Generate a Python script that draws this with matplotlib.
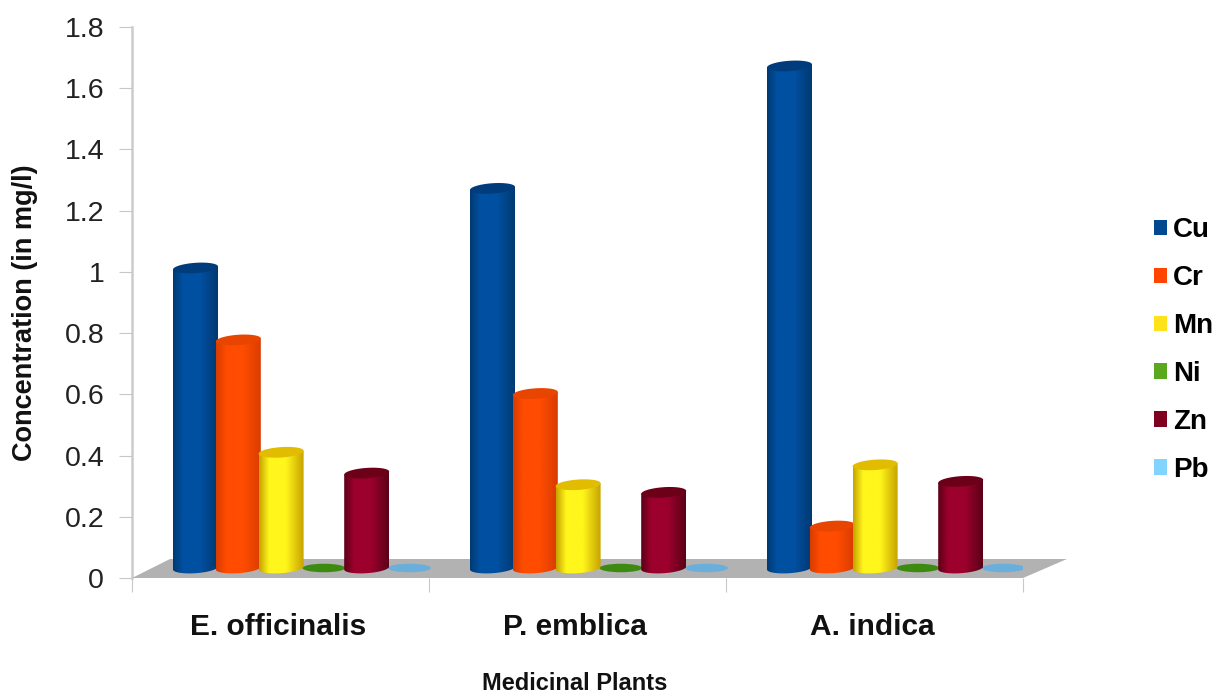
import numpy as np
import matplotlib
matplotlib.use('Agg')
import matplotlib.pyplot as plt
from matplotlib.colors import LinearSegmentedColormap
from matplotlib.patches import Ellipse, Patch, PathPatch, Polygon
from matplotlib.path import Path

plt.rcParams['font.family'] = ['Liberation Sans', 'DejaVu Sans']

plants = ['E. officinalis', 'P. emblica', 'A. indica']
metals = ['Cu', 'Cr', 'Mn', 'Ni', 'Zn', 'Pb']
cu = [0.98, 1.24, 1.64]
cr = [0.745, 0.57, 0.137]
mn = [0.378, 0.272, 0.337]
ni = [0, 0, 0]
zn = [0.31, 0.247, 0.283]
pb = [0, 0, 0]
y_ticks = [0, 0.2, 0.4, 0.6, 0.8, 1, 1.2, 1.4, 1.6, 1.8]
y_labels = ['0', '0.2', '0.4', '0.6', '0.8', '1', '1.2', '1.4', '1.6', '1.8']

series = [cu, cr, mn, ni, zn, pb]
legend_cols = ['#004990', '#ff4500', '#ffe21a', '#5aa81e', '#800020', '#80d4ff']
edge_cols = ['#013a72', '#d83c00', '#c8a400', '#3d8a10', '#5c0018', '#6aaedc']
mid_cols = ['#0050a2', '#ff4c00', '#fff61c', '#3d8a10', '#9c002c', '#6aaedc']
top_cols = ['#003c7c', '#e84500', '#e2bc00', '#3d8a10', '#6c0018', '#6aaedc']

W, H = 1213, 695
fig = plt.figure(figsize=(W / 100, H / 100), dpi=100)
ax = fig.add_axes([132 / W, 1 - 578 / H, 891 / W, 551 / H])
ax.set_xlim(-0.5, 2.5)
ax.set_ylim(0, 1.8)

# px sizes turned into data units
px_x = 3 / 891
px_y = 1.8 / 551
bar_w = 45 * px_x
pitch = 42.8 * px_x
first = (195.5 - 132) * px_x - 0.5
base = 10 * px_y
rx = bar_w / 2
ry = 5.2 * px_y
tilt = 1.5 * px_y

floor = Polygon([(-0.5, 0), (-0.5 + 38 * px_x, 19 * px_y),
                 (2.5 + 44 * px_x, 19 * px_y), (2.5, 0)],
                closed=True, fc='#b2b2b2', ec='none', clip_on=False, zorder=1)
ax.add_patch(floor)


def arc(xc, yc, t):
    return xc + rx * np.cos(t), yc + ry * np.sin(t) + tilt * np.cos(t)


def cylinder(xc, val, i, z):
    cmap = LinearSegmentedColormap.from_list(
        'c', [(0, edge_cols[i]), (0.22, mid_cols[i]), (0.6, mid_cols[i]), (1, edge_cols[i])])
    bx, by = arc(xc, base, np.linspace(np.pi, 2 * np.pi, 40))
    verts = [(xc - rx, base + val - tilt)] + list(zip(bx, by)) + [(xc + rx, base + val + tilt), (xc - rx, base + val - tilt)]
    codes = [Path.MOVETO] + [Path.LINETO] * (len(verts) - 2) + [Path.CLOSEPOLY]
    clip = PathPatch(Path(verts, codes), transform=ax.transData, fc='none', ec='none')
    ax.add_patch(clip)
    grad = np.linspace(0, 1, 64).reshape(1, -1)
    im = ax.imshow(grad, cmap=cmap, aspect='auto', zorder=z,
                   extent=[xc - rx, xc + rx, base - 2 * ry, base + val + 2 * ry])
    im.set_clip_path(clip)
    tx, ty = arc(xc, base + val, np.linspace(0, 2 * np.pi, 80))
    ax.add_patch(Polygon(np.column_stack([tx, ty]), closed=True, fc=top_cols[i], ec='none',
                         zorder=z + 0.1))


for g in range(len(plants)):
    for i, vals in enumerate(series):
        xc = g + first + i * pitch
        if vals[g] > 0:
            cylinder(xc, vals[g], i, 3 + i)
        else:
            ax.add_patch(Ellipse((xc, base), bar_w * 0.95, 8.5 * px_y, fc=top_cols[i], ec='none',
                                 zorder=2))

ax.set_xlim(-0.5, 2.5)
ax.set_ylim(0, 1.8)

for s in ['top', 'right', 'bottom']:
    ax.spines[s].set_visible(False)
ax.spines['left'].set_color('#cccccc')
ax.spines['left'].set_linewidth(1.8)
ax.spines['left'].set_zorder(0.5)

ax.set_yticks(y_ticks)
ax.set_yticklabels(y_labels, fontsize=20.5, color='#222222')
ax.set_xticks([-0.5, 0.5, 1.5, 2.5])
ax.set_xticklabels([])
ax.set_xticks([-0.008, 0.992, 1.992], minor=True)
ax.set_xticklabels(plants, minor=True, fontsize=21.5, fontweight='bold', color='#111111')
ax.tick_params(axis='y', length=9.5, width=0.8, color='#c8c8c8', pad=10.5)
ax.tick_params(axis='x', which='major', length=10, width=0.8, color='#c8c8c8')
ax.tick_params(axis='x', which='minor', length=0, pad=25)

fig.text(574.5 / W, 1 - 684 / H, 'Medicinal Plants', fontsize=17, fontweight='bold',
         ha='center', va='center', color='#111111')
fig.text(25 / W, 1 - 313 / H, 'Concentration (in mg/l)', fontsize=19.5, fontweight='bold',
         rotation=90, ha='center', va='center', color='#111111')

handles = [Patch(fc=c, ec='none') for c in legend_cols]
fig.legend(handles, metals, loc='center left', bbox_to_anchor=(1154 / W, 1 - 350 / H),
           frameon=False, prop={'size': 20, 'weight': 'bold'}, labelspacing=0.79,
           handlelength=0.47, handleheight=0.47, handletextpad=0.22, borderpad=0, borderaxespad=0)

fig.savefig('out.png', dpi=100)
